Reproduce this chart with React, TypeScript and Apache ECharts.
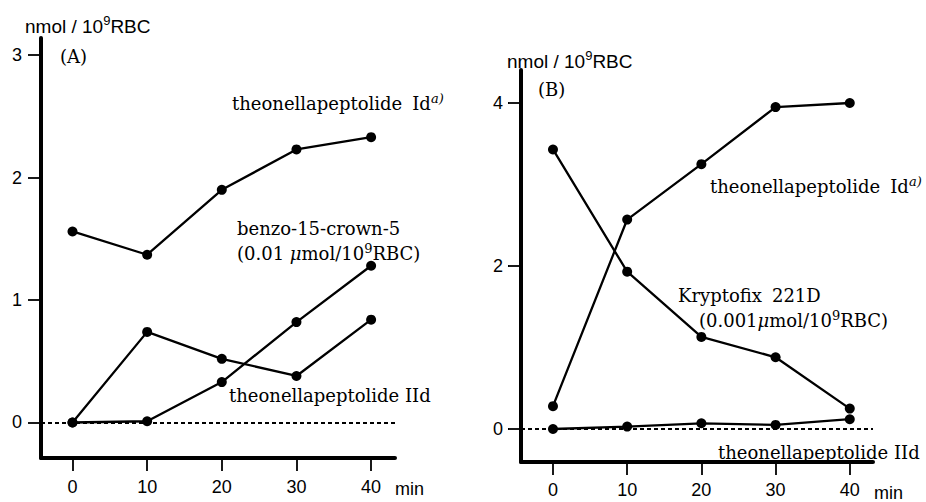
import React, { useEffect, useRef } from "react";
import * as echarts from "echarts";

// ---- data ----
const times = [0, 10, 20, 30, 40];
const xTicks = [0, 10, 20, 30, 40];
const yTicksA = [0, 1, 2, 3];
const yTicksB = [0, 2, 4];

// Panel (A)
const aTheonellaId = [1.56, 1.37, 1.9, 2.23, 2.33];
const aBenzoCrown = [0, 0.01, 0.33, 0.82, 1.28];
const aTheonellaIId = [0, 0.74, 0.52, 0.38, 0.84];

// Panel (B)
const bTheonellaId = [0.28, 2.57, 3.25, 3.95, 4.0];
const bKryptofix = [3.43, 1.93, 1.13, 0.88, 0.25];
const bTheonellaIId = [0, 0.03, 0.07, 0.05, 0.12];

const SANS = "'Liberation Sans', Arial, Helvetica, sans-serif";
const SERIF = "'DejaVu Serif', 'Liberation Serif', serif";

const pairs = (ys: number[]) => times.map((t, i) => [t, ys[i]]);

const richSans = {
  s: { fontFamily: SANS, fontSize: 19, fill: "#000", color: "#000" },
  sup: { fontFamily: SANS, fontSize: 13, fill: "#000", color: "#000", padding: [0, 0, 11, 0] },
};
const richSerif = {
  s: { fontFamily: SERIF, fontSize: 18, fill: "#000", color: "#000" },
  it: { fontFamily: SERIF, fontSize: 18, fontStyle: "italic", fill: "#000", color: "#000" },
  gap: { fontFamily: SERIF, fontSize: 18, fill: "#000", color: "#000", padding: [0, 0, 0, 10] },
  sup: { fontFamily: SERIF, fontSize: 13, fill: "#000", color: "#000", padding: [0, 0, 10, 0] },
  supi: { fontFamily: SERIF, fontSize: 13, fontStyle: "italic", fill: "#000", color: "#000", padding: [0, 0, 10, 0] },
};
const richMin = { s: { fontFamily: SANS, fontSize: 18, fill: "#000", color: "#000" } };

function txt(x: number, y: number, text: string, rich: any) {
  return {
    type: "text",
    x,
    y,
    silent: true,
    style: { text, rich, fill: "#000", verticalAlign: "middle", align: "left" },
  };
}

function xAxisCfg(gridIndex: number, min: number, max: number, margin: number) {
  return {
    type: "value",
    gridIndex,
    min,
    max,
    axisLine: { show: true, onZero: false, lineStyle: { color: "#000", width: 4 } },
    axisTick: { show: true, length: 13, customValues: xTicks, lineStyle: { color: "#000", width: 1.8 } },
    axisLabel: { customValues: xTicks, margin, fontSize: 18, fontFamily: SANS, color: "#000" },
    splitLine: { show: false },
  };
}

function yAxisCfg(gridIndex: number, min: number, max: number, ticks: number[], margin: number) {
  return {
    type: "value",
    gridIndex,
    min,
    max,
    axisLine: { show: true, onZero: false, lineStyle: { color: "#000", width: 4 } },
    axisTick: { show: true, length: 13, customValues: ticks, lineStyle: { color: "#000", width: 1.8 } },
    axisLabel: { customValues: ticks, margin, fontSize: 18, fontFamily: SANS, color: "#000" },
    splitLine: { show: false },
  };
}

function lineSeries(name: string, idx: number, ys: number[], withZero = false) {
  const s: any = {
    name,
    type: "line",
    xAxisIndex: idx,
    yAxisIndex: idx,
    data: pairs(ys),
    symbol: "circle",
    symbolSize: 10,
    itemStyle: { color: "#000" },
    lineStyle: { color: "#000", width: 2.3 },
    z: 3,
  };
  if (withZero) {
    s.markLine = {
      silent: true,
      symbol: "none",
      label: { show: false },
      lineStyle: { color: "#000", width: 2, type: [4, 3] },
      data: [{ yAxis: 0 }],
    };
  }
  return s;
}

export default function App() {
  const ref = useRef<HTMLDivElement>(null);
  useEffect(() => {
    if (!ref.current) return;
    const chart = echarts.init(ref.current, undefined, { renderer: "svg" });
    chart.setOption({
      animation: false,
      backgroundColor: "#fff",
      grid: [
        { left: 41, top: 38, width: 354, height: 420 },
        { left: 521, top: 70, width: 352, height: 392 },
      ],
      xAxis: [xAxisCfg(0, -4.22, 43.2, 20), xAxisCfg(1, -4.31, 43.13, 19)],
      yAxis: [
        yAxisCfg(0, -0.29, 3.14, yTicksA, 19),
        yAxisCfg(1, -0.405, 4.405, yTicksB, 18),
      ],
      series: [
        lineSeries("theonellapeptolide Id (A)", 0, aTheonellaId, true),
        lineSeries("benzo-15-crown-5", 0, aBenzoCrown),
        lineSeries("theonellapeptolide IId (A)", 0, aTheonellaIId),
        lineSeries("theonellapeptolide Id (B)", 1, bTheonellaId, true),
        lineSeries("Kryptofix 221D", 1, bKryptofix),
        lineSeries("theonellapeptolide IId (B)", 1, bTheonellaIId),
      ],
      graphic: [
        // Panel A
        txt(25, 26, "{s|nmol / 10}{sup|9}{s|RBC}", richSans),
        txt(60, 56, "{s|(A)}", richSerif),
        txt(232, 103, "{s|theonellapeptolide}{gap|Id}{supi|a)}", richSerif),
        txt(237, 228, "{s|benzo-15-crown-5}", richSerif),
        txt(237, 253, "{s|(0.01 }{it|μ}{s|mol/10}{sup|9}{s|RBC)}", richSerif),
        txt(229, 395, "{s|theonellapeptolide IId}", richSerif),
        txt(395, 489, "{s|min}", richMin),
        // Panel B
        txt(507, 61, "{s|nmol / 10}{sup|9}{s|RBC}", richSans),
        txt(538, 89, "{s|(B)}", richSerif),
        txt(710, 186, "{s|theonellapeptolide}{gap|Id}{supi|a)}", richSerif),
        txt(678, 295, "{s|Kryptofix}{gap|221D}", richSerif),
        txt(699, 320, "{s|(0.001}{it|μ}{s|mol/10}{sup|9}{s|RBC)}", richSerif),
        txt(718, 452, "{s|theonellapeptolide IId}", richSerif),
        txt(874, 493, "{s|min}", richMin),
      ],
    });
    return () => chart.dispose();
  }, []);
  return (
    <div
      ref={ref}
      style={{ position: "fixed", left: 0, top: 0, width: 926, height: 502, background: "#fff" }}
    />
  );
}
